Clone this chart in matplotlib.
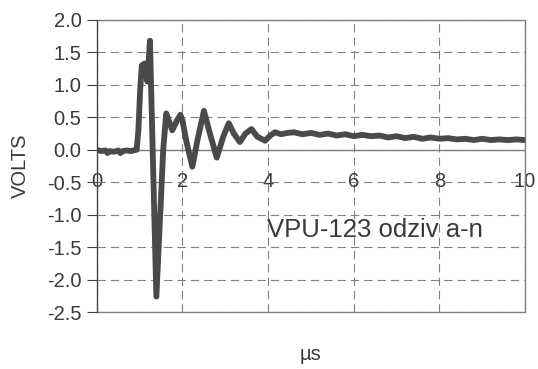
#!/usr/bin/env python3
"""
Step response of VPU-123 (a-n), volts vs microseconds.
Excel-style line chart: axis crosses at 0, dashed grid, boxed plot area.
"""
import matplotlib
matplotlib.use("Agg")
import matplotlib.pyplot as plt
from matplotlib.patches import Rectangle

# Data
time_us = [
    0.00, 0.10, 0.20, 0.25, 0.30, 0.40, 0.50, 0.55, 0.60, 0.70, 0.80, 0.90,
    0.93, 0.97, 1.01, 1.05, 1.12, 1.18, 1.24, 1.39, 1.55, 1.62, 1.68, 1.76,
    1.82, 1.87, 1.95, 2.00, 2.10, 2.23, 2.35, 2.50, 2.62, 2.80, 2.95, 3.08,
    3.20, 3.34, 3.47, 3.61, 3.75, 3.93, 4.05, 4.16, 4.30, 4.45, 4.60, 4.80,
    5.00, 5.20, 5.40, 5.60, 5.80, 6.00, 6.20, 6.40, 6.60, 6.80, 7.00, 7.20,
    7.40, 7.60, 7.80, 8.00, 8.20, 8.40, 8.60, 8.80, 9.00, 9.20, 9.40, 9.60,
    9.80, 10.00,
]
volts = [
    0.00, -0.02, -0.01, -0.05, -0.02, -0.03, -0.01, -0.05, -0.02, -0.01, -0.02, 0.00,
    0.00, 0.30, 0.90, 1.30, 1.33, 1.05, 1.68, -2.26, 0.00, 0.56, 0.45, 0.30,
    0.38, 0.45, 0.54, 0.45, 0.10, -0.26, 0.15, 0.60, 0.30, -0.12, 0.20, 0.41,
    0.25, 0.12, 0.25, 0.32, 0.20, 0.14, 0.22, 0.27, 0.24, 0.26, 0.27, 0.24,
    0.26, 0.23, 0.25, 0.22, 0.24, 0.21, 0.23, 0.21, 0.22, 0.19, 0.21, 0.18,
    0.20, 0.17, 0.19, 0.17, 0.18, 0.16, 0.17, 0.15, 0.17, 0.15, 0.16, 0.15,
    0.16, 0.15,
]
x_ticks = [0, 2, 4, 6, 8, 10]
y_ticks = [-2.5, -2.0, -1.5, -1.0, -0.5, 0.0, 0.5, 1.0, 1.5, 2.0]
label_text = "VPU-123 odziv a-n"

plt.rcParams["font.family"] = ["Liberation Sans", "DejaVu Sans"]
plt.rcParams["lines.scale_dashes"] = False

GRID = "#808080"
TEXT = "#3a3a3a"
LINE = "#4a4a4a"

fig = plt.figure(figsize=(5.38, 3.69), dpi=100)
ax = fig.add_axes([0.180, 0.154, 0.796, 0.792])

ax.plot(time_us, volts, color=LINE, lw=4.2, solid_joinstyle="round", zorder=3)

ax.set_xlim(0, 10)
ax.set_ylim(-2.5, 2.0)
ax.set_xticks(x_ticks)
ax.set_yticks(y_ticks)
ax.set_yticklabels([f"{v:.1f}" for v in y_ticks])

ax.grid(True, color=GRID, lw=0.8, linestyle=(0, (6, 3.6)))
ax.set_axisbelow(True)

# x axis crosses at 0
ax.spines["bottom"].set_position(("data", 0))
ax.spines["bottom"].set_color(GRID)
ax.spines["bottom"].set_linewidth(1.0)
ax.spines["top"].set_visible(False)
ax.spines["right"].set_visible(False)
ax.spines["left"].set_color("#404040")
ax.add_patch(Rectangle((0, 0), 1, 1, transform=ax.transAxes, fill=False,
                       edgecolor=GRID, lw=1.0, clip_on=False, zorder=1))

ax.tick_params(axis="x", length=0, pad=16, labelsize=14.5, labelcolor=TEXT)
ax.tick_params(axis="y", direction="out", length=7, width=0.8, color="#404040",
               labelsize=14.5, labelcolor=TEXT, pad=4)

ax.set_ylabel("VOLTS", fontsize=14.5, color=TEXT, labelpad=12)
fig.text(0.578, 0.038, "µs", fontsize=14.5, color=TEXT, ha="center", va="center")

ax.text(3.98, -1.34, label_text, fontsize=18.5, color=TEXT, ha="left", va="baseline")

fig.savefig("out.png", dpi=100)
